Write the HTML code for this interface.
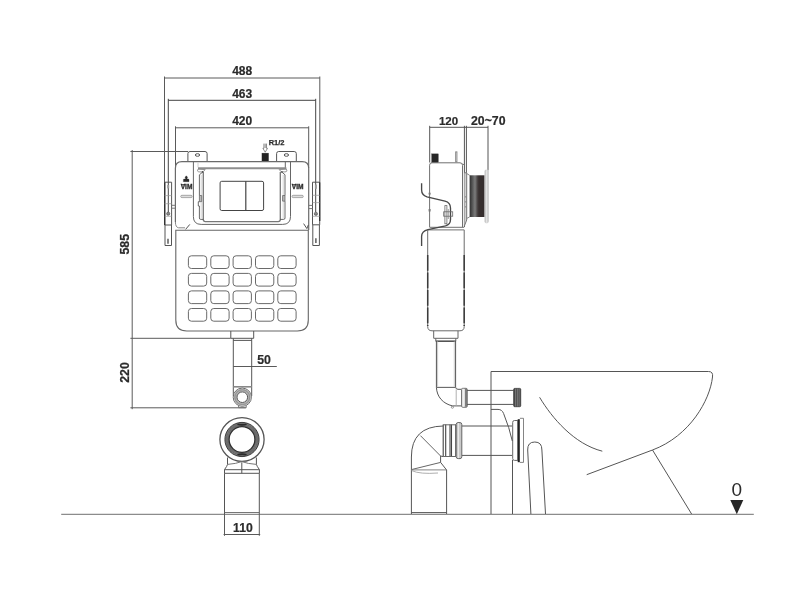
<!DOCTYPE html>
<html><head><meta charset="utf-8"><title>Diagram</title>
<style>
html,body{margin:0;padding:0;background:#fff;width:795px;height:600px;overflow:hidden}
svg{display:block}
text{font-family:"Liberation Sans",sans-serif;font-weight:bold;fill:#2b2b2b}
</style></head><body>
<svg width="795" height="600" viewBox="0 0 795 600">
<defs>
<linearGradient id="cyl" x1="0" x2="1" y1="0" y2="0">
<stop offset="0" stop-color="#2e2e2e"/><stop offset="0.18" stop-color="#555"/><stop offset="0.36" stop-color="#7c7c7c"/><stop offset="0.52" stop-color="#4a4545"/><stop offset="0.62" stop-color="#372f2f"/><stop offset="1" stop-color="#332c2c"/>
</linearGradient>
<linearGradient id="fl" x1="0" x2="1" y1="0" y2="0">
<stop offset="0" stop-color="#b8b8b8"/><stop offset="0.45" stop-color="#e4e4e4"/><stop offset="1" stop-color="#bdbdbd"/>
</linearGradient>
</defs>
<rect width="795" height="600" fill="#fff"/>
<!-- GROUND -->
<g id="ground" fill="none" stroke="#8c8c8c" stroke-width="1.25">
<path d="M61.2 514.25H753.8"/>
</g>
<!-- DIMS FRONT -->
<g id="dims" fill="none" stroke="#5a5a5a" stroke-width="1">
<path d="M164.5 78H319.8M164.5 76.5V182M319.8 76.5V182"/>
<path d="M168.3 100.3H315.7M168.3 98.8V212M315.7 98.8V212" stroke="#444"/>
<path d="M175.5 127.8H308.7M175.5 126.3V168M308.7 126.3V168"/>
<path d="M132.2 150V409.2M130.4 151.5H188M130.4 338.3H230.7M130.4 407.8H245.8"/>
<path d="M233.3 366.5H276.8"/>
<path d="M224.5 514V535.8M259.3 514V535.8M223.6 534.5H260.2"/>
</g>
<!-- TEXT -->
<g id="labels" font-size="12" opacity="0.999" stroke="#2b2b2b" stroke-width="0.2">
<text x="242.2" y="75.2" text-anchor="middle">488</text>
<text x="242.2" y="97.5" text-anchor="middle">463</text>
<text x="242.2" y="125.1" text-anchor="middle">420</text>
<text transform="translate(129.4 244.2) rotate(-90)" text-anchor="middle" font-size="12.3" stroke="#2b2b2b" stroke-width="0.25">585</text>
<text transform="translate(129.4 372.5) rotate(-90)" text-anchor="middle" font-size="12.3" stroke="#2b2b2b" stroke-width="0.25">220</text>
<text x="264" y="364.4" text-anchor="middle" font-size="12.3">50</text>
<text x="242.9" y="531.8" text-anchor="middle" font-size="12.2">110</text>
<text x="448.5" y="124.8" text-anchor="middle" font-size="11.5">120</text>
<text x="471" y="124.8" font-size="12.3">20~70</text>
<text x="736.8" y="496.2" text-anchor="middle" font-size="19" style="font-weight:normal" stroke="none">0</text>
<text x="268.7" y="144.9" font-size="7.5" stroke="#2b2b2b" stroke-width="0.25">R1/2</text>
<text x="180.7" y="189.1" font-size="6.6" stroke="#2b2b2b" stroke-width="0.3">VIM</text>
<text x="291.8" y="189.1" font-size="6.6" stroke="#2b2b2b" stroke-width="0.3">VIM</text>
</g>
<path d="M730.3 500H743.3L736.8 514.2Z" fill="#262626"/>
<!-- FRONT-TANK -->
<g id="front" fill="none" stroke="#555" stroke-width="1">
<!-- tabs -->
<path d="M187.9 161.5V153.6Q187.9 151.5 190 151.5H205Q207.1 151.5 207.1 153.6V161.5"/>
<path d="M276.6 161.5V153.6Q276.6 151.5 278.7 151.5H294.2Q296.3 151.5 296.3 153.6V161.5"/>
<ellipse cx="197.5" cy="155" rx="2.2" ry="1.3"/><ellipse cx="286.4" cy="155" rx="2.2" ry="1.3"/>
<!-- inlet -->
<rect x="262" y="153.2" width="6.4" height="8.2" fill="#222" stroke="#222" stroke-width="0.5"/>
<path d="M263.9 143.6V148.3H262.9L265.2 152.2L267.5 148.3H266.5V143.6M265.2 143.6V148" stroke-width="0.6" stroke="#444"/>
<!-- upper body -->
<path d="M175.4 222V168.2Q175.4 161.7 181.9 161.7H302.2Q308.7 161.7 308.7 168.2V230" stroke="#6a6a6a" stroke-width="1.2"/>
<path d="M175.4 222Q175.4 227.3 178.6 227.8H185" stroke="#888"/>
<path d="M185.6 229.4L189.8 224.4M303.6 223.6L306.9 228.6L308.3 225"/>
<!-- lower body -->
<path d="M175.8 230.2H308.3V320Q308.3 331 297.3 331H186.8Q175.8 331 175.8 320Z" stroke="#666" stroke-width="1.1"/>
<g stroke="#6a6a6a"><rect x="188.4" y="255.8" width="18.3" height="12.7" rx="3"/><rect x="210.8" y="255.8" width="18.3" height="12.7" rx="3"/><rect x="233.1" y="255.8" width="18.3" height="12.7" rx="3"/><rect x="255.5" y="255.8" width="18.3" height="12.7" rx="3"/><rect x="277.8" y="255.8" width="18.3" height="12.7" rx="3"/><rect x="188.4" y="273.4" width="18.3" height="12.7" rx="3"/><rect x="210.8" y="273.4" width="18.3" height="12.7" rx="3"/><rect x="233.1" y="273.4" width="18.3" height="12.7" rx="3"/><rect x="255.5" y="273.4" width="18.3" height="12.7" rx="3"/><rect x="277.8" y="273.4" width="18.3" height="12.7" rx="3"/><rect x="188.4" y="290.9" width="18.3" height="12.7" rx="3"/><rect x="210.8" y="290.9" width="18.3" height="12.7" rx="3"/><rect x="233.1" y="290.9" width="18.3" height="12.7" rx="3"/><rect x="255.5" y="290.9" width="18.3" height="12.7" rx="3"/><rect x="277.8" y="290.9" width="18.3" height="12.7" rx="3"/><rect x="188.4" y="308.5" width="18.3" height="12.7" rx="3"/><rect x="210.8" y="308.5" width="18.3" height="12.7" rx="3"/><rect x="233.1" y="308.5" width="18.3" height="12.7" rx="3"/><rect x="255.5" y="308.5" width="18.3" height="12.7" rx="3"/><rect x="277.8" y="308.5" width="18.3" height="12.7" rx="3"/></g>
<!-- frame -->
<path d="M193.4 161.8V216.6Q193.4 224.4 201.2 224.4H282.7Q290.5 224.4 290.5 216.6V161.8" stroke="#666" stroke-width="1"/>
<path d="M198 162.4V167.3" stroke="#d0d0d0"/>
<path d="M285.3 161.8V168" stroke="#666"/>
<!-- bar -->
<path d="M198 168.3H286.4" stroke="#8e8e8e" stroke-width="2.1"/>
<path d="M198 169.2Q196.6 171.9 199.6 171.9H203L205.2 169.6ZM286.4 169.2Q287.8 171.9 284.8 171.9H281.4L279.2 169.6Z" fill="#fff" stroke="#777" stroke-width="0.8"/>
<circle cx="202.6" cy="172" r="0.8" fill="#222" stroke="none"/><circle cx="281.9" cy="172" r="0.8" fill="#222" stroke="none"/>
<!-- inner panel -->
<path d="M203.3 172V219.6Q203.3 221.7 205.4 221.7H278.2Q280.3 221.7 280.3 219.6V172" stroke="#777" stroke-width="1.3"/>
<!-- clamps -->
<path d="M202.3 172.4L199.4 174.8V195.5M199.4 201.7H198.3V206H199.4V218Q199.4 219.4 200.8 219.4H203.3" stroke="#444" stroke-width="0.8"/>
<path d="M199.4 195.5H201.7V201.7H199.4Z" fill="#bbb" stroke="#555" stroke-width="0.7"/>
<path d="M201.2 175V195M201.2 202V218.5" stroke="#ccc" stroke-width="0.8"/>
<path d="M282.2 172.4L285 174.8V195.5M285 201.2V218Q285 219.4 283.6 219.4H280.3" stroke="#444" stroke-width="0.8"/>
<path d="M285 195.5H282.6V201.2H285Z" fill="#bbb" stroke="#555" stroke-width="0.7"/>
<path d="M283.2 175V195M283.2 202V218.5" stroke="#ccc" stroke-width="0.8"/>
<!-- button -->
<rect x="220.1" y="181.3" width="43.5" height="29.2" rx="1.6" stroke="#444"/>
<path d="M245.8 181.3V210.5" stroke="#444" stroke-width="1.2"/>
<!-- icons -->
<rect x="180.7" y="195.3" width="11.5" height="2.3" rx="1.15" fill="#ddd" stroke="#8a8a8a" stroke-width="0.7"/><rect x="292" y="195.3" width="11.3" height="2.3" rx="1.15" fill="#ddd" stroke="#8a8a8a" stroke-width="0.7"/>
<path d="M186.3 175.8L187.6 177.2L186.9 178.7L189 179.3V181.7H183.4V179.3L185.7 178.7L185 177.2Z" fill="#2a2a2a" stroke="#2a2a2a" stroke-width="0.3"/><path d="M181 184.7H185.4M292.1 184.7H296.5" stroke="#2b2b2b" stroke-width="0.9"/>
<!-- left bracket -->
<path d="M164.7 182.2H171.6V225H164.7ZM165 225V245.5H171.5V225" stroke-width="1"/>
<path d="M164.7 182.2V225" stroke="#333" stroke-width="1.4"/>
<path d="M164.7 195.6H171.6M164.7 203.7H171.6M164.7 216.3H171.6" stroke="#999" stroke-width="0.7"/>
<path d="M168.2 185V188.4" stroke="#999" stroke-width="2"/>
<circle cx="168.2" cy="213.7" r="1.6" fill="#8a8a8a" stroke="#444" stroke-width="0.6"/>
<path d="M168 238.8V243.8" stroke="#333" stroke-width="1.2"/>
<path d="M171.6 205.3H175.4M171.6 208.2H175.4" stroke="#777"/>
<!-- right bracket -->
<path d="M312.5 182.2H319.7V224.8H312.5ZM312.8 224.8V245.5H319.4V224.8"/>
<path d="M319.7 182.2V221" stroke="#333" stroke-width="1.4"/>
<path d="M312.5 195.3H319.7M312.5 202.6H319.7M312.5 216.3H319.7" stroke="#999" stroke-width="0.7"/>
<path d="M315.9 184.5V188.8" stroke="#999" stroke-width="2"/>
<circle cx="315.9" cy="213.8" r="1.6" fill="#8a8a8a" stroke="#444" stroke-width="0.6"/>
<path d="M315.9 238.2V243" stroke="#333" stroke-width="1.2"/>
<path d="M308.7 205.4H312.5M308.7 208.6H312.5" stroke="#777"/>
</g>
<!-- FRONT-PIPE -->
<g id="frontpipe" fill="none" stroke="#555" stroke-width="1">
<!-- outlet connector -->
<path d="M230.8 331V338.3H253.7V331"/>
<path d="M233.3 338.3V396M251.7 338.3V396M233.3 340.4H251.7"/>
<path d="M233.3 386.8H251.7" stroke="#888" stroke-width="1.6"/>
<circle cx="242.3" cy="397.2" r="9.1" fill="#fff" stroke="#666"/>
<circle cx="242.3" cy="397.2" r="7.1" stroke="#b0b0b0" stroke-width="3"/>
<circle cx="242.3" cy="397.2" r="7.4" stroke="#808080" stroke-width="0.6"/>
<circle cx="242.3" cy="397.2" r="5.3" stroke="#555" stroke-width="1" fill="#fff"/>
<path d="M238.6 405.6V407.7H246.2V405.6" stroke="#777"/>
<!-- trap front view -->
<ellipse cx="242" cy="439.5" rx="22.1" ry="21.8" stroke="#555" stroke-width="1.3"/>
<circle cx="242" cy="439.5" r="15" stroke="#8a8a8a" stroke-width="4"/>
<path d="M255.4 439.5L258.7 440.8M255.4 440.4L258.6 442.0M255.3 441.4L258.4 443.2M255.1 442.3L258.1 444.3M254.9 443.2L257.7 445.4M254.6 444.1L257.3 446.5M254.2 445.0L256.8 447.5M253.8 445.8L256.2 448.5M253.4 446.6L255.5 449.5M252.8 447.4L254.8 450.4M252.3 448.1L254.0 451.3M251.6 448.8L253.1 452.1M251.0 449.5L252.2 452.8M250.2 450.1L251.3 453.5M249.5 450.6L250.3 454.1M248.7 451.1L249.2 454.7M247.9 451.5L248.1 455.1M247.0 451.9L247.0 455.5M246.1 452.2L245.9 455.8M245.2 452.5L244.7 456.1M244.3 452.7L243.6 456.2M243.4 452.8L242.4 456.3M242.5 452.9L241.2 456.3M241.5 452.9L240.1 456.2M240.6 452.8L238.9 456.0M239.7 452.7L237.8 455.8M238.8 452.5L236.6 455.4M237.9 452.2L235.5 455.0M237.0 451.9L234.5 454.5M236.1 451.5L233.5 454.0M235.3 451.1L232.5 453.3M234.5 450.6L231.5 452.6M233.8 450.1L230.6 451.9M233.0 449.5L229.8 451.0M232.4 448.8L229.0 450.2M231.7 448.1L228.3 449.2M231.2 447.4L227.7 448.3M230.6 446.6L227.1 447.2M230.2 445.8L226.6 446.2M229.8 445.0L226.2 445.1M229.4 444.1L225.8 444.0M229.1 443.2L225.5 442.8M228.9 442.3L225.3 441.7M228.7 441.4L225.2 440.5M228.6 440.4L225.2 439.3M228.6 439.5L225.3 438.2M228.6 438.6L225.4 437.0M228.7 437.6L225.6 435.8M228.9 436.7L225.9 434.7M229.1 435.8L226.3 433.6M229.4 434.9L226.7 432.5M229.8 434.0L227.2 431.5M230.2 433.2L227.8 430.5M230.6 432.4L228.5 429.5M231.2 431.6L229.2 428.6M231.7 430.9L230.0 427.7M232.4 430.2L230.9 426.9M233.0 429.5L231.8 426.2M233.8 428.9L232.7 425.5M234.5 428.4L233.7 424.9M235.3 427.9L234.8 424.3M236.1 427.5L235.9 423.9M237.0 427.1L237.0 423.5M237.9 426.8L238.1 423.2M238.8 426.5L239.3 422.9M239.7 426.3L240.4 422.8M240.6 426.2L241.6 422.7M241.5 426.1L242.8 422.7M242.5 426.1L243.9 422.8M243.4 426.2L245.1 423.0M244.3 426.3L246.2 423.2M245.2 426.5L247.4 423.6M246.1 426.8L248.5 424.0M247.0 427.1L249.5 424.5M247.9 427.5L250.5 425.0M248.7 427.9L251.5 425.7M249.5 428.4L252.5 426.4M250.2 428.9L253.4 427.1M251.0 429.5L254.2 428.0M251.6 430.2L255.0 428.8M252.3 430.9L255.7 429.8M252.8 431.6L256.3 430.7M253.4 432.4L256.9 431.8M253.8 433.2L257.4 432.8M254.2 434.0L257.8 433.9M254.6 434.9L258.2 435.0M254.9 435.8L258.5 436.2M255.1 436.7L258.7 437.3M255.3 437.6L258.8 438.5M255.4 438.6L258.8 439.7" stroke="#4a4a4a" stroke-width="0.55"/>
<circle cx="242" cy="439.5" r="17.1" stroke="#3c3c3c" stroke-width="1"/>
<circle cx="242" cy="439.5" r="12.9" stroke="#2e2e2e" stroke-width="1.3"/>
<path d="M237.5 424.2Q242 425.6 246.5 424.2M237.5 454.8Q242 453.4 246.5 454.8" stroke="#2a2a2a" stroke-width="1.6"/>
<path d="M227.5 457.5V464.4Q227.2 466 224.5 469.6V473.3M256.4 457.5V464.4Q256.8 466 259.4 469.6V473.3"/>
<path d="M224.5 469.7H259.4M224.5 473.3H259.4M241.8 462.3V473.3"/>
<path d="M227.5 464.4Q236 463.8 241.8 461.6Q247.5 463.8 256.4 464.4" stroke="#777"/>
<path d="M224.5 473.3V514M259.3 473.3V514"/><path d="M224.5 512.5H259.3" stroke="#666" stroke-width="0.9"/>
</g>
<!-- SIDE -->
<g id="side" fill="none" stroke="#555" stroke-width="1">
<!-- dims -->
<path d="M429.7 127.3H488M429.7 125.8V162.5M488 125.8V170"/>
<path d="M464.4 125.8V227M466.4 125.8V173" />
<!-- inlet block & stick -->
<rect x="431.8" y="153.9" width="6.4" height="8.6" fill="#262626" stroke="#262626" stroke-width="0.4"/>
<rect x="455.6" y="151.8" width="1.4" height="10" stroke="#888" stroke-width="0.8" fill="#ccc"/>
<!-- box -->
<path d="M429.6 227.2V165.2Q429.6 162.8 432 162.8H460Q462.5 162.8 462.5 165.3V227.2" stroke="#707070"/>
<path d="M462.3 164L464.4 164.8" stroke="#777"/>
<path d="M429.6 227.3H464.2M427.6 229.9H464.2" stroke="#707070"/>
<rect x="428.9" y="193" width="1.4" height="1.6" stroke="#777" stroke-width="0.6"/><rect x="428.9" y="209.6" width="1.4" height="1.6" stroke="#777" stroke-width="0.6"/>
<!-- wall plate -->
<path d="M464.4 172.8H466.7V220L464.4 226" fill="#d0d0d0" stroke="#777"/>
<path d="M465.5 196.5V197.3M465.5 201.5V202.3M465.5 206.5V207.3" stroke="#555" stroke-width="0.8"/>
<!-- flush plate -->
<path d="M466.7 173.5L469.6 175.3M466.7 218.4L469.6 217" stroke="#888"/>
<rect x="469.6" y="175.3" width="15" height="41.7" fill="url(#cyl)" stroke="none"/>
<path d="M484.8 222V171Q484.9 170 485.8 170H488.5V221.2Q488.5 223 486.8 223Q485 223 484.8 222Z" fill="url(#fl)" stroke="#c8c8c8" stroke-width="0.5"/>
<!-- S hook -->
<path d="M421.6 183.2V190Q421.6 195 427 196.8L445 201.2Q450.5 202.6 450.5 208V219.5Q450.5 224.5 445.5 225.8L428 229.6Q421.6 231.2 421.6 236.5V246" stroke="#484848" stroke-width="1.35"/>
<!-- bolt -->
<rect x="444.9" y="205.6" width="2" height="18.2" stroke="#666" stroke-width="0.8"/>
<rect x="443.7" y="211.8" width="9" height="4.4" stroke="#666" stroke-width="0.8"/>
<path d="M448.3 209V219" stroke="#777" stroke-width="0.7"/>
<!-- lower tank side -->
<path d="M427.7 229.9V326.5Q427.7 330.8 432 330.8H460Q464.2 330.8 464.2 326.5V229.9" stroke="#6a6a6a"/>
<path d="M427.7 255V326M464.2 255V326" stroke="#3c3c3c" stroke-width="1.5" stroke-dasharray="15.7 1.8"/>
<!-- connector & pipe -->
<path d="M433.7 330.8V338.3H458V330.8M435.8 338.3V341.2H455.8V338.3" stroke="#666"/>
<path d="M435.8 341.2H455.8" stroke="#444" stroke-width="1.2"/>
<path d="M436.4 341.2V387.4C436.9 397 443 403.6 452.4 405.9H461.5M455.6 341.2V387.2Q455.8 389.3 458 389.3H461.5"/>
<path d="M437.6 341.2V386.6M454.3 341.2V386.6" stroke="#b5b5b5" stroke-width="0.7"/>
<path d="M436.4 387.4H455.4" stroke="#666" stroke-width="1.1"/>
<path d="M456.2 389.6V405.6" stroke="#b0b0b0"/>
<circle cx="452.4" cy="407.2" r="1.1" stroke="#777" stroke-width="0.7"/>
<!-- collar -->
<rect x="461.5" y="388.3" width="5.8" height="19" rx="1.2" fill="#dedede" stroke="#777"/>
<path d="M463.4 388.8V406.8" stroke="#f4f4f4" stroke-width="0.9"/><path d="M466 388.8V406.8" stroke="#666" stroke-width="1.6"/>
<!-- flush pipe -->
<path d="M467 390.4H513.6M467 404.4H513.6"/>
<rect x="513.7" y="388.4" width="7" height="18.3" rx="1" fill="#4a4a4a" stroke="#333" stroke-width="0.8"/>
<path d="M515.6 388.6V406.5M517.4 388.6V406.5M519.1 388.6V406.5" stroke="#999" stroke-width="0.6"/>
<!-- waste pipe -->
<path d="M462 426H512M462 455.4H512"/>
<path d="M443.2 424.6V456.6M445.7 424.6V456.6" stroke="#444" stroke-width="1.1"/>
<path d="M450 424.6V456.6M451.5 424.6V456.6M455.8 424.6V456.6" stroke="#444" stroke-width="1.1"/>
<path d="M443.2 424.8H456M443.2 456.5H456" stroke="#666"/>
<rect x="456.2" y="422.6" width="5.6" height="36" rx="1.8" fill="#c9c9c9" stroke="#666"/>
<path d="M458.4 423V458.2" stroke="#eee" stroke-width="1"/>
<!-- waste flange -->
<path d="M512.7 422.3Q512.7 420.5 514.5 420.5H517.8V460.4H514.5Q512.7 460.4 512.7 458.6Z" fill="#fff" stroke="#666"/>
<path d="M518.8 419.2V462.2" stroke="#222" stroke-width="2.2"/>
<path d="M519.9 418.3H523.5V462.4H519.9" fill="#fff" stroke="#666" stroke-width="0.8"/>
<!-- big elbow -->
<path d="M443.2 426Q411.4 426.5 411.4 457V514M411.4 512.6H446.6M446.6 514V470L440.6 462.4V456L443.2 456.6"/>
<path d="M420.4 435.6L440.6 456M411.4 469.6L440.6 462.4" stroke="#666"/>
<path d="M411.4 469.9H446.4" stroke="#777" stroke-width="0.9"/><path d="M411.6 470.6Q420 474.4 438 473" stroke="#999" stroke-width="0.8"/>
</g>
<!-- TOILET -->
<g id="toilet" fill="none" stroke="#555" stroke-width="1">
<path d="M491 514V371.5H708.5Q713.4 371.5 712.5 377C710 400 690 436 652.5 450L586.7 474.7"/>
<path d="M652.5 450L691.6 514"/>
<path d="M539.6 397.3C552 418 574 444 602.3 451.2"/>
<path d="M491 409.4H498Q502 409.4 503.6 413.5Q509.5 428 512.3 441"/>
<path d="M512.5 460V514"/>
<path d="M530.9 514L527.7 450Q527.4 442 534.8 442Q542 442 541.9 450L545.5 514"/>
</g>
</svg>
</body></html>
